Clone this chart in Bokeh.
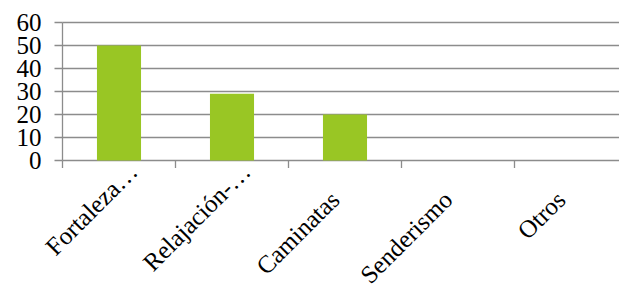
from bokeh.plotting import figure
from bokeh.models import Range1d
from bokeh.core.properties import value
from bokeh.embed import file_html
from bokeh.resources import INLINE
import math

categories = ["Fortaleza…", "Relajación-…", "Caminatas", "Senderismo", "Otros"]
values = [50, 29, 20, 0, 0]
y_ticks = [0, 10, 20, 30, 40, 50, 60]

centers = [i + 0.5 for i in range(len(categories))]
bounds = [float(i) for i in range(len(categories) + 1)]
n_cat = float(len(categories))

W, H = 619, 284
LEFT, TOP = 62, 22           # pixel position of the value axis / top gridline
PX_PER_CAT = 113.0
PX_PER_UNIT = 2.3

x_start = -LEFT / PX_PER_CAT
x_end = (W - LEFT) / PX_PER_CAT
y_top = max(y_ticks) + TOP / PX_PER_UNIT
y_start = max(y_ticks) - (H - TOP) / PX_PER_UNIT

p = figure(width=W, height=H, output_backend="svg", toolbar_location=None,
           x_range=Range1d(x_start, x_end), y_range=Range1d(y_start, y_top),
           min_border_left=0, min_border_right=0, min_border_top=0, min_border_bottom=0)
p.outline_line_color = None
p.background_fill_color = "white"
p.axis.visible = False
p.grid.visible = False

GRID = "#8C8C8C"
LW = 1.3
FONT = "Times New Roman"

# horizontal gridlines (value ticks) from the value axis across all categories
p.segment(x0=[0.0] * len(y_ticks), y0=y_ticks, x1=[n_cat] * len(y_ticks), y1=y_ticks,
          line_color=GRID, line_width=LW)

p.vbar(x=centers, top=values, width=0.39, fill_color="#99C624", line_color=None)

# value axis line and its outward ticks
p.segment(x0=[0.0], y0=[min(y_ticks)], x1=[0.0], y1=[max(y_ticks)],
          line_color=GRID, line_width=LW)
ytick_len = 8 / PX_PER_CAT
p.segment(x0=[-ytick_len] * len(y_ticks), y0=y_ticks, x1=[0.0] * len(y_ticks), y1=y_ticks,
          line_color=GRID, line_width=LW)
p.text(x=[0.0] * len(y_ticks), y=y_ticks, text=[str(t) for t in y_ticks],
       x_offset=-21, text_align="right", text_baseline="middle",
       text_font=value(FONT), text_font_size="25px", text_color="black")

# category boundary ticks below the zero line
xtick_len = 7.5 / PX_PER_UNIT
p.segment(x0=bounds, y0=[0.0] * len(bounds), x1=bounds, y1=[-xtick_len] * len(bounds),
          line_color=GRID, line_width=LW)

# rotated category labels: baseline end near the category centre, below the axis;
# truncated labels ("…") keep their un-truncated part ending near the centre
LABEL_DROP_PX = 35
LABEL_SHIFT_PX = -10
ELLIPSIS_PX = 40
TRUNC_SHIFT_PX = -4
diag = math.sqrt(0.5)
lx, ly = [], []
for c, t in zip(centers, categories):
    trunc = t.endswith("…")
    s = ELLIPSIS_PX * diag if trunc else 0.0
    dx = LABEL_SHIFT_PX + (TRUNC_SHIFT_PX if trunc else 0.0)
    lx.append(c + (s + dx) / PX_PER_CAT)
    ly.append((-LABEL_DROP_PX + s) / PX_PER_UNIT)
p.text(x=lx, y=ly, text=categories, angle=math.pi / 4,
       text_align="right", text_baseline="alphabetic",
       text_font=value(FONT), text_font_size="25px", text_color="black")

open("out.html", "w").write(file_html(p, INLINE))
